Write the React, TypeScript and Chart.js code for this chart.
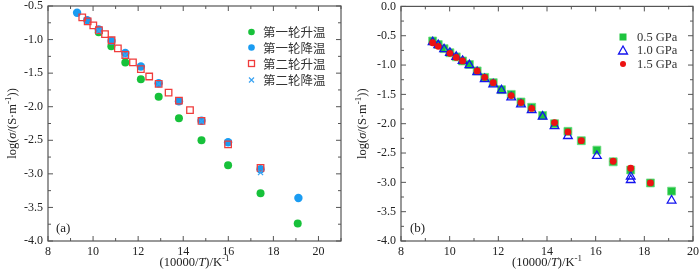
import React, { useEffect, useRef } from 'react';
import { Chart, registerables } from 'chart.js';
Chart.register(...registerables);

// ---------- Panel (a) data ----------
const heat1X = [10.25, 10.81, 11.43, 12.12, 12.91, 13.81, 14.81, 15.99, 17.43, 19.08];
const heat1Y = [-0.89, -1.1, -1.34, -1.59, -1.85, -2.17, -2.5, -2.87, -3.29, -3.74];
const cool1X = [9.29, 9.74, 10.25, 10.82, 11.43, 12.12, 12.91, 13.81, 14.81, 15.99, 17.43, 19.11];
const cool1Y = [-0.6, -0.71, -0.85, -1.02, -1.2, -1.4, -1.65, -1.92, -2.21, -2.53, -2.93, -3.36];
const heat2X = [9.52, 9.76, 10.01, 10.26, 10.53, 10.82, 11.1, 11.43, 11.77, 12.12, 12.49, 12.91, 13.35, 13.81, 14.3, 14.81, 15.99, 17.43];
const heat2Y = [-0.67, -0.73, -0.79, -0.86, -0.92, -1.01, -1.13, -1.23, -1.34, -1.44, -1.55, -1.66, -1.79, -1.91, -2.05, -2.21, -2.56, -2.91];
const cool2X = [10.26, 11.43, 12.91, 14.81, 17.43];
const cool2Y = [-0.87, -1.23, -1.66, -2.22, -2.98];
const legendA = ['第一轮升温', '第一轮降温', '第二轮升温', '第二轮降温'];

// ---------- Panel (b) data ----------
const p05X = [9.3, 9.53, 9.77, 10.01, 10.27, 10.53, 10.81, 11.13, 11.44, 11.79, 12.13, 12.53, 12.93, 13.37, 13.82, 14.31, 14.86, 15.41, 16.05, 16.72, 17.44, 18.25, 19.12];
const p05Y = [-0.59, -0.65, -0.72, -0.79, -0.86, -0.93, -0.99, -1.1, -1.21, -1.3, -1.42, -1.5, -1.63, -1.72, -1.86, -2.0, -2.13, -2.29, -2.45, -2.65, -2.79, -3.01, -3.15];
const p10X = [9.3, 9.53, 9.77, 10.01, 10.27, 10.53, 10.81, 11.13, 11.44, 11.79, 12.13, 12.53, 12.93, 13.37, 13.82, 14.31, 14.86, 16.05, 17.44, 17.44, 19.12];
const p10Y = [-0.61, -0.66, -0.73, -0.79, -0.86, -0.93, -1.0, -1.12, -1.24, -1.33, -1.43, -1.55, -1.67, -1.77, -1.88, -2.04, -2.21, -2.55, -2.9, -2.96, -3.31];
const p15X = [9.3, 9.53, 10.01, 10.27, 10.53, 11.13, 11.44, 11.79, 12.53, 12.93, 13.37, 14.31, 14.86, 15.41, 16.72, 17.44, 18.25];
const p15Y = [-0.62, -0.68, -0.8, -0.87, -0.93, -1.1, -1.21, -1.3, -1.52, -1.64, -1.74, -1.98, -2.14, -2.29, -2.64, -2.76, -3.01];
const legendB = ['0.5 GPa', '1.0 GPa', '1.5 GPa'];

const SERIF = "'Liberation Serif', 'Times New Roman', serif";
const CJK = "'Noto Sans CJK SC', sans-serif";

const pts = (xs: number[], ys: number[]) => xs.map((x, i) => ({ x, y: ys[i] }));

type Seg = { t: string; s?: 'i' | 'sup' };
function drawRich(ctx: CanvasRenderingContext2D, segs: Seg[], cx: number, cy: number, size: number) {
  const fontFor = (s?: string) =>
    s === 'i' ? `italic ${size}px ${SERIF}` : s === 'sup' ? `${Math.round(size * 0.7)}px ${SERIF}` : `${size}px ${SERIF}`;
  let total = 0;
  const widths = segs.map((g) => {
    ctx.font = fontFor(g.s);
    const w = ctx.measureText(g.t).width;
    total += w;
    return w;
  });
  let x = cx - total / 2;
  ctx.textBaseline = 'middle';
  ctx.textAlign = 'left';
  segs.forEach((g, i) => {
    ctx.font = fontFor(g.s);
    ctx.fillText(g.t, x, g.s === 'sup' ? cy - size * 0.35 : cy);
    x += widths[i];
  });
}

type LegendItem = { label: string; draw: (ctx: CanvasRenderingContext2D, x: number, y: number) => void };

function makePlugin(opts: {
  legend: LegendItem[];
  legendX: number;
  legendYs: number[];
  textX: number;
  legendFont: string;
  panel: string;
  panelX: number;
  xMinor: number;
  yMinor: number;
}) {
  return {
    id: 'decor',
    beforeDatasetsDraw(chart: any) {
      const { ctx, chartArea: a } = chart;
      const xs = chart.scales.x;
      const ys = chart.scales.y;
      ctx.save();
      ctx.strokeStyle = '#555';
      ctx.lineWidth = 1.2;
      ctx.strokeRect(a.left, a.top, a.right - a.left, a.bottom - a.top);
      ctx.lineWidth = 1;
      // x ticks
      for (let v = xs.min; v <= xs.max + 1e-9; v += opts.xMinor) {
        const p = xs.getPixelForValue(v);
        const major = Math.abs(v / 2 - Math.round(v / 2)) < 1e-6;
        const L = major ? 5 : 3;
        ctx.beginPath();
        ctx.moveTo(p, a.bottom);
        ctx.lineTo(p, a.bottom - L);
        ctx.moveTo(p, a.top);
        ctx.lineTo(p, a.top + L);
        ctx.stroke();
      }
      for (let v = ys.min; v <= ys.max + 1e-9; v += opts.yMinor) {
        const p = ys.getPixelForValue(v);
        const major = Math.abs(v * 2 - Math.round(v * 2)) < 1e-6;
        const L = major ? 5 : 3;
        ctx.beginPath();
        ctx.moveTo(a.left, p);
        ctx.lineTo(a.left + L, p);
        ctx.moveTo(a.right, p);
        ctx.lineTo(a.right - L, p);
        ctx.stroke();
      }
      ctx.restore();
    },
    afterDraw(chart: any) {
      const { ctx, chartArea: a } = chart;
      ctx.save();
      ctx.fillStyle = '#222';
      // axis titles
      drawRich(ctx, [{ t: '(10000/' }, { t: 'T', s: 'i' }, { t: ')/K' }, { t: '-1', s: 'sup' }], (a.left + a.right) / 2, 263, 12.5);
      ctx.save();
      ctx.translate(13, (a.top + a.bottom) / 2);
      ctx.rotate(-Math.PI / 2);
      drawRich(ctx, [{ t: 'log(' }, { t: 'σ', s: 'i' }, { t: '/(S·m' }, { t: '-1', s: 'sup' }, { t: '))' }], 0, 0, 12.5);
      ctx.restore();
      // panel label
      ctx.fillStyle = '#222';
      ctx.font = `13px ${SERIF}`;
      ctx.textAlign = 'left';
      ctx.textBaseline = 'middle';
      ctx.fillText(opts.panel, opts.panelX, 229);
      // legend
      opts.legend.forEach((it, i) => {
        const y = opts.legendYs[i];
        it.draw(ctx, opts.legendX, y);
        ctx.fillStyle = '#333';
        ctx.font = opts.legendFont;
        ctx.textAlign = 'left';
        ctx.textBaseline = 'middle';
        ctx.fillText(it.label, opts.textX, y + 0.5);
      });
      ctx.restore();
    },
  };
}

const C_GREEN = '#17c13a';
const C_BLUE = '#1a9cf2';
const C_RED = '#f03c3c';
const C_XBLUE = '#3aa3f2';
const C_GREEN2 = '#1ec43e';
const C_TRI = '#1414ee';
const C_DOT = '#ec1212';

function baseOptions(xMax: number, yMax: number, left: number, right: number, plugin: any) {
  return {
    responsive: false,
    animation: false as const,
    layout: { padding: { top: 6, right, left: 0, bottom: 0 } },
    plugins: { legend: { display: false }, tooltip: { enabled: false } },
    scales: {
      x: {
        type: 'linear' as const,
        min: 8,
        max: xMax,
        grid: { display: false, drawTicks: false },
        border: { display: false },
        ticks: { stepSize: 2, includeBounds: false, padding: 4, color: '#222', font: { family: SERIF, size: 12 } },
        afterFit: (s: any) => {
          s.height = 32;
          s.paddingLeft = 0;
          s.paddingRight = 0;
        },
      },
      y: {
        type: 'linear' as const,
        min: -4,
        max: yMax,
        grid: { display: false, drawTicks: false },
        border: { display: false },
        ticks: {
          stepSize: 0.5,
          padding: 5,
          color: '#222',
          font: { family: SERIF, size: 12 },
          callback: (v: any) => Number(v).toFixed(1),
        },
        afterFit: (s: any) => {
          s.width = left;
          s.paddingTop = 0;
          s.paddingBottom = 0;
        },
      },
    },
  };
}

function circle(color: string, r: number) {
  return (ctx: CanvasRenderingContext2D, x: number, y: number) => {
    ctx.fillStyle = color;
    ctx.beginPath();
    ctx.arc(x, y, r, 0, Math.PI * 2);
    ctx.fill();
  };
}

function ChartA() {
  const ref = useRef<HTMLCanvasElement>(null);
  useEffect(() => {
    const legend: LegendItem[] = [
      { label: legendA[0], draw: circle(C_GREEN, 3.3) },
      { label: legendA[1], draw: circle(C_BLUE, 3.3) },
      {
        label: legendA[2],
        draw: (ctx, x, y) => {
          ctx.strokeStyle = C_RED;
          ctx.lineWidth = 1.3;
          ctx.strokeRect(x - 3, y - 3, 6, 6);
        },
      },
      {
        label: legendA[3],
        draw: (ctx, x, y) => {
          ctx.strokeStyle = C_XBLUE;
          ctx.lineWidth = 1.2;
          ctx.beginPath();
          ctx.moveTo(x - 2.5, y - 2.5);
          ctx.lineTo(x + 2.5, y + 2.5);
          ctx.moveTo(x + 2.5, y - 2.5);
          ctx.lineTo(x - 2.5, y + 2.5);
          ctx.stroke();
        },
      },
    ];
    const plugin = makePlugin({
      legend,
      legendX: 251.5,
      legendYs: [32, 47.5, 63.5, 80],
      textX: 263,
      legendFont: `12.5px ${CJK}`,
      panel: '(a)',
      panelX: 56,
      xMinor: 1,
      yMinor: 0.25,
    });
    const chart = new Chart(ref.current!, {
      type: 'scatter',
      data: {
        datasets: [
          { data: pts(heat1X, heat1Y), pointStyle: 'circle', pointRadius: 4, backgroundColor: C_GREEN, borderColor: C_GREEN, borderWidth: 0, order: 4 },
          { data: pts(cool1X, cool1Y), pointStyle: 'circle', pointRadius: 4.2, backgroundColor: C_BLUE, borderColor: C_BLUE, borderWidth: 0, order: 3 },
          { data: pts(heat2X, heat2Y), pointStyle: 'rect', pointRadius: 4.6, backgroundColor: 'rgba(0,0,0,0)', borderColor: C_RED, borderWidth: 1.3, order: 2 },
          { data: pts(cool2X, cool2Y), pointStyle: 'crossRot', pointRadius: 3.6, backgroundColor: C_XBLUE, borderColor: C_XBLUE, borderWidth: 1.2, order: 1 },
        ] as any,
      },
      options: baseOptions(21, -0.5, 48, 9, plugin) as any,
      plugins: [plugin],
    });
    return () => chart.destroy();
  }, []);
  return <canvas ref={ref} width={350} height={273} style={{ display: 'block' }} />;
}

function ChartB() {
  const ref = useRef<HTMLCanvasElement>(null);
  useEffect(() => {
    const legend: LegendItem[] = [
      {
        label: legendB[0],
        draw: (ctx, x, y) => {
          ctx.fillStyle = C_GREEN2;
          ctx.fillRect(x - 3.5, y - 3.5, 7, 7);
        },
      },
      {
        label: legendB[1],
        draw: (ctx, x, y) => {
          ctx.strokeStyle = C_TRI;
          ctx.lineWidth = 1.3;
          ctx.beginPath();
          ctx.moveTo(x, y - 4.5);
          ctx.lineTo(x + 4.5, y + 3.5);
          ctx.lineTo(x - 4.5, y + 3.5);
          ctx.closePath();
          ctx.stroke();
        },
      },
      { label: legendB[2], draw: circle(C_DOT, 3) },
    ];
    const plugin = makePlugin({
      legend,
      legendX: 273,
      legendYs: [37, 50.5, 64],
      textX: 287,
      legendFont: `12.5px ${SERIF}`,
      panel: '(b)',
      panelX: 60,
      xMinor: 1,
      yMinor: 0.25,
    });
    const chart = new Chart(ref.current!, {
      type: 'scatter',
      data: {
        datasets: [
          { data: pts(p05X, p05Y), pointStyle: 'rect', pointRadius: 5.6, backgroundColor: C_GREEN2, borderColor: '#6fdc82', borderWidth: 0.8, order: 3 },
          { data: pts(p10X, p10Y), pointStyle: 'triangle', pointRadius: 5, backgroundColor: 'rgba(0,0,0,0)', borderColor: C_TRI, borderWidth: 1.3, order: 2 },
          { data: pts(p15X, p15Y), pointStyle: 'circle', pointRadius: 3.4, backgroundColor: C_DOT, borderColor: C_DOT, borderWidth: 0, order: 1 },
        ] as any,
      },
      options: baseOptions(20, 0, 51, 7, plugin) as any,
      plugins: [plugin],
    });
    return () => chart.destroy();
  }, []);
  return <canvas ref={ref} width={350} height={273} style={{ display: 'block' }} />;
}

export default function App() {
  return (
    <div
      style={{
        position: 'fixed',
        left: 0,
        top: 0,
        width: 700,
        height: 273,
        display: 'flex',
        background: '#fff',
      }}
    >
      <ChartA />
      <ChartB />
    </div>
  );
}
